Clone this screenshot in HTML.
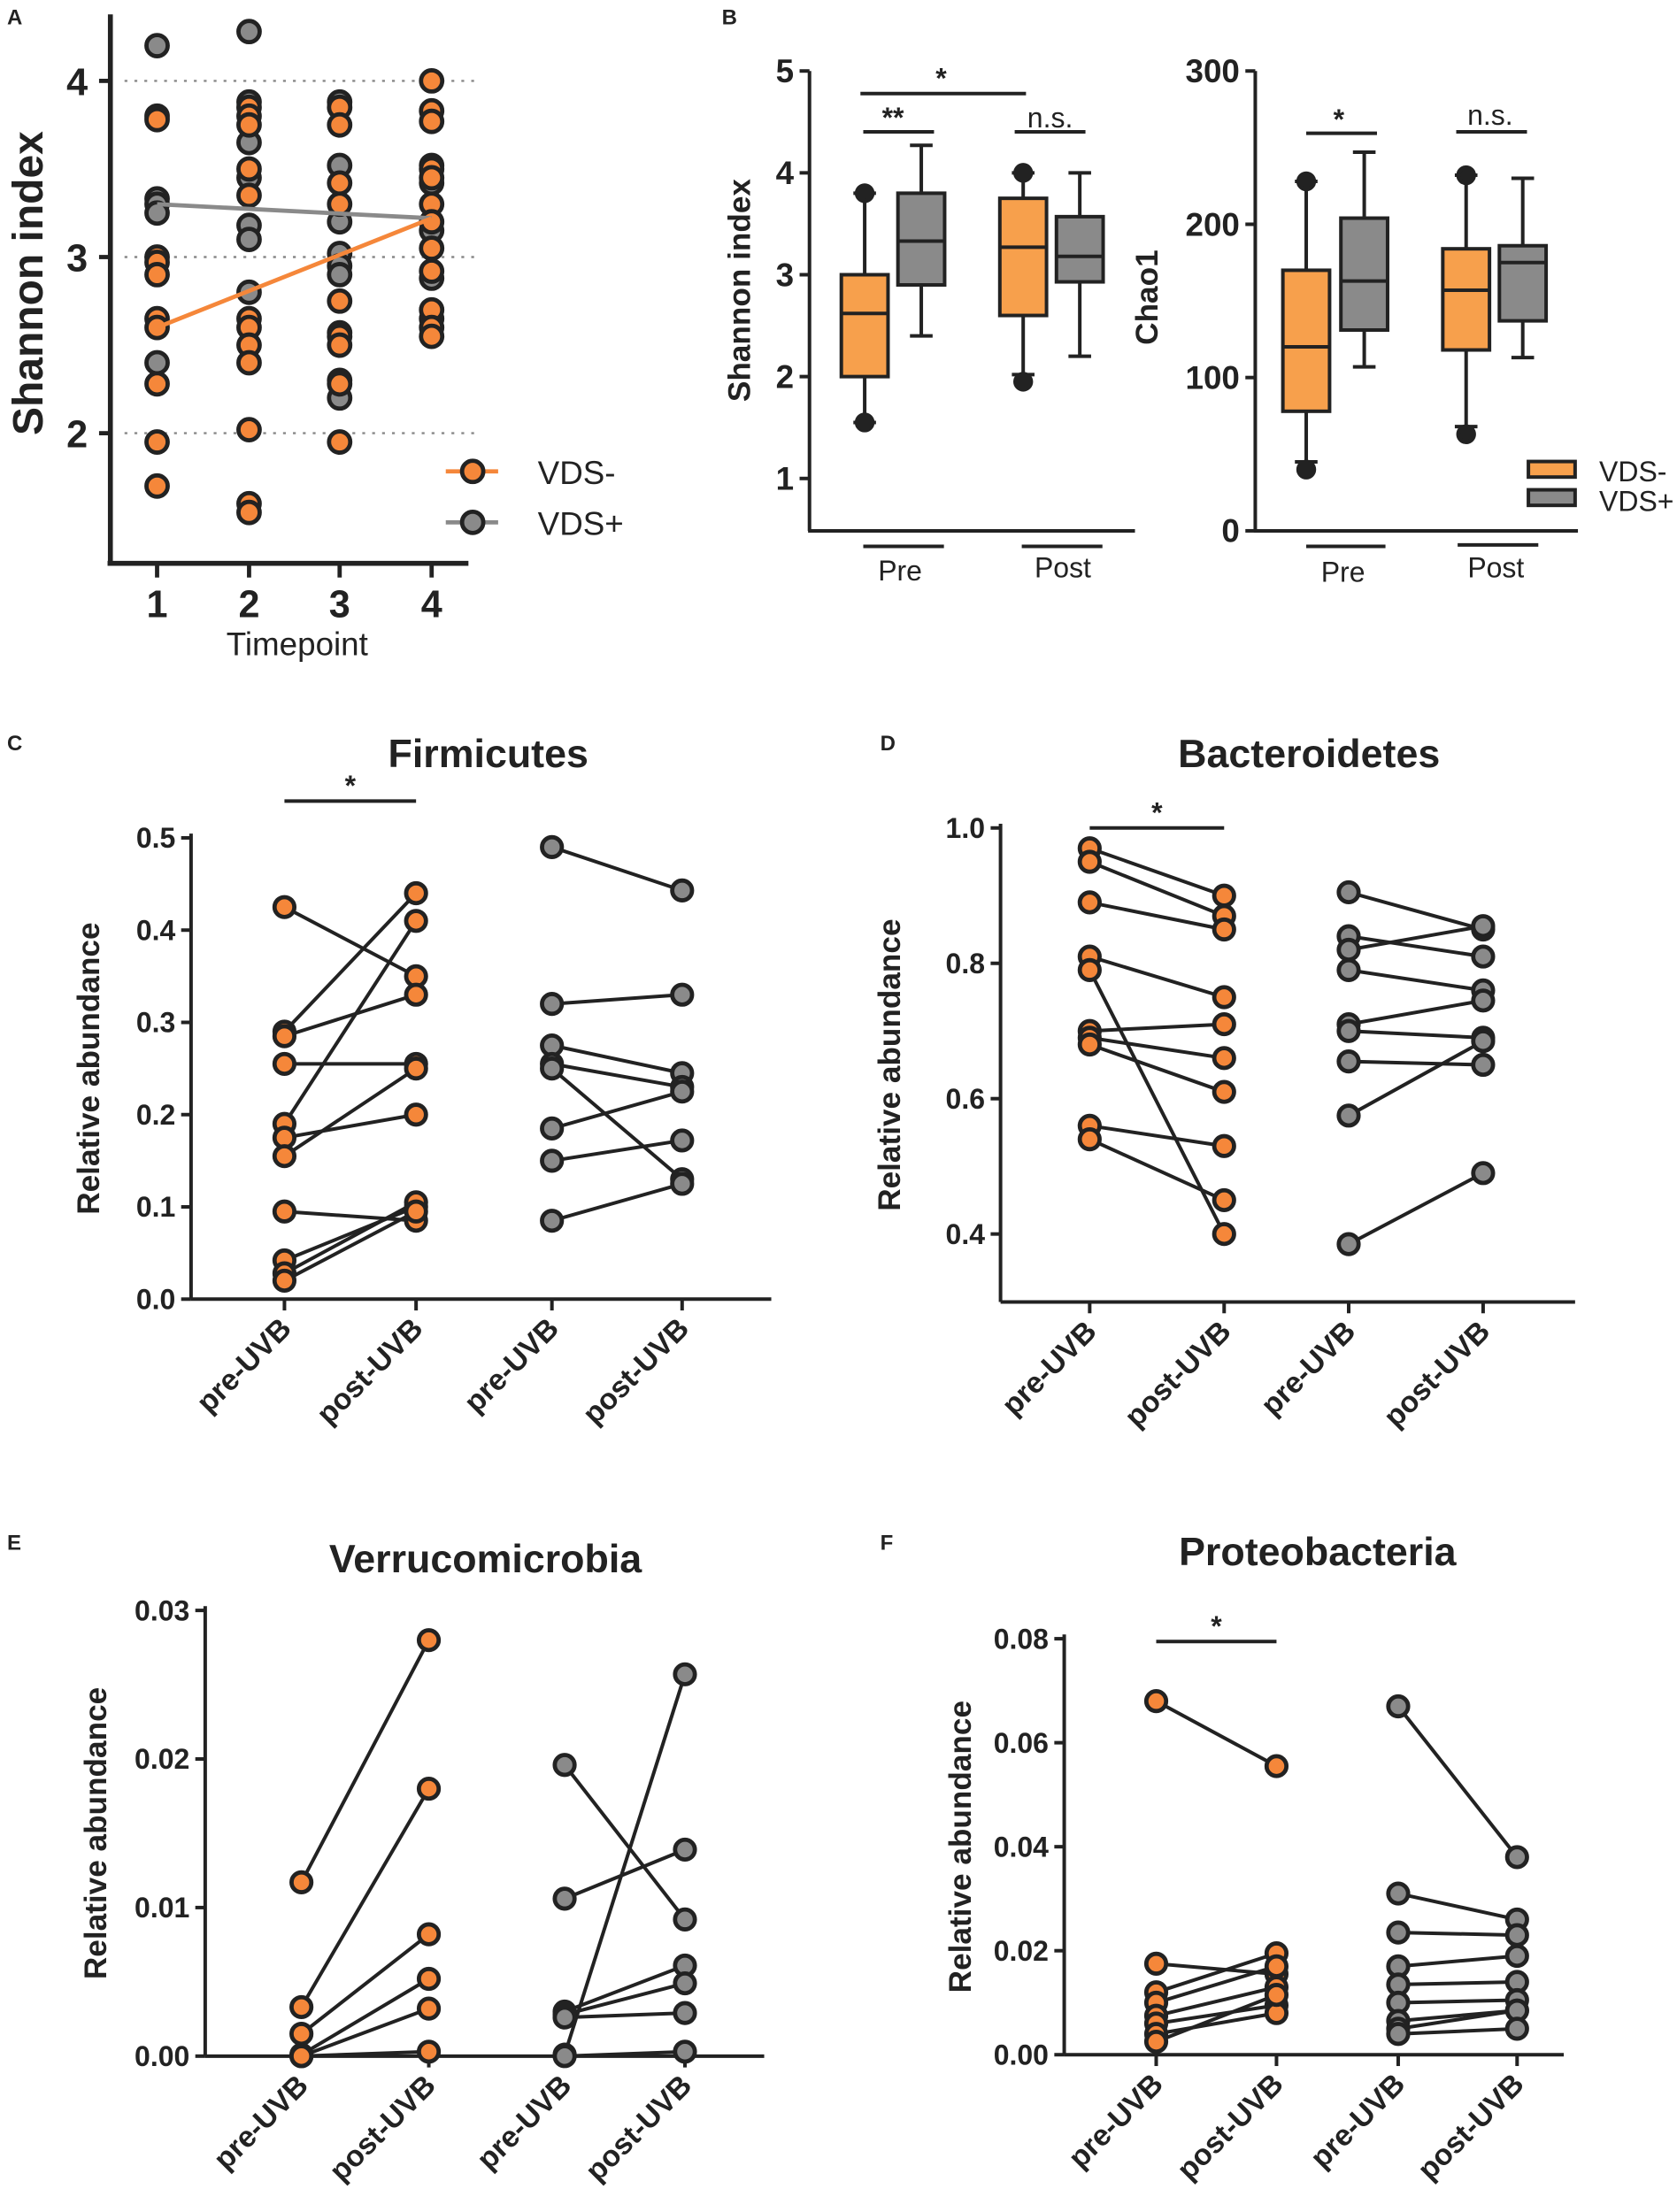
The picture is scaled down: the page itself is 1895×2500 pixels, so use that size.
<!DOCTYPE html>
<html><head><meta charset="utf-8"><style>html,body{margin:0;padding:0;background:#fff}svg{display:block}</style></head>
<body>
<svg id="s" xmlns="http://www.w3.org/2000/svg" width="1895" height="2500" viewBox="0 0 1185 1563" font-family="Liberation Sans, sans-serif"></svg>
<script>
const S=document.getElementById('s');let h='';
const OR='#f5873a',GR='#8a8a8a',K='#222',BO='#f7a04c';
function L(x1,y1,x2,y2,c=K,w=2.5,extra=''){h+=`<line x1="${x1}" y1="${y1}" x2="${x2}" y2="${y2}" stroke="${c}" stroke-width="${w}" ${extra}/>`}
function C(x,y,f,r=7.5){h+=`<circle cx="${x}" cy="${y}" r="${r}" fill="${f}" stroke="${K}" stroke-width="3"/>`}
function T(x,y,t,s,a='middle',b='bold',extra=''){h+=`<text x="${x}" y="${y}" font-size="${s}" text-anchor="${a}" font-weight="${b}" fill="#222" ${extra}>${t}</text>`}
function R(x,y,w,hh,f){h+=`<rect x="${x}" y="${y}" width="${w}" height="${hh}" fill="${f}" stroke="${K}" stroke-width="2.5"/>`}
// Panel A
T(5,17,'A',15,'start');
const ya=v=>57+(4-v)*124.5, xa=[0,111,176,240,305];
[4,3,2].forEach(v=>{L(88,ya(v),335,ya(v),'#888',1.5,'stroke-dasharray="2,5"');L(70,ya(v),78,ya(v),K,3);T(62,ya(v)+10,v,27,'end')});
L(78,10,78,398,K,3.5);L(76,398,331,398,K,3.5);
[1,2,3,4].forEach(i=>{L(xa[i],398,xa[i],408,K,3);T(xa[i],436,i,27)});
T(210,463,'Timepoint',23,'middle','normal');
T(30,200,'Shannon index',30,'middle','bold','transform="rotate(-90 30 200)"');
const A={1:[[3.8,3.78,3.0,2.97,2.9,2.65,2.6,2.28,1.95,1.7],[4.2,3.33,3.3,3.25,2.4]],
2:[[3.85,3.8,3.75,3.5,3.35,2.65,2.6,2.5,2.4,2.02,1.6,1.55],[4.28,3.88,3.65,3.45,3.18,3.1,2.8]],
3:[[3.85,3.75,3.42,3.3,2.75,2.55,2.5,2.3,2.28,1.95],[3.88,3.52,3.2,3.02,2.95,2.9,2.2,2.57]],
4:[[4.0,3.83,3.77,3.5,3.45,3.3,3.2,3.05,2.92,2.7,2.6,2.55],[3.52,3.42,3.15,2.88,2.65]]};
for(let i=1;i<=4;i++){A[i][1].forEach(v=>C(xa[i],ya(v),GR));A[i][0].forEach(v=>C(xa[i],ya(v),OR));}
L(111,ya(3.3),305,ya(3.22),GR,3);L(111,ya(2.6),305,ya(3.22),OR,3);
L(315,333,352,333,OR,3);C(334,333,OR);T(380,342,'VDS-',23,'start','normal');
L(315,369,352,369,GR,3);C(334,369,GR);T(380,378,'VDS+',23,'start','normal');
// Panel B
T(510,17,'B',15,'start');
function box(x,yf,w,b,f){const[lo,q1,md,q3,hi,d1,d2]=b;L(x,yf(hi),x,yf(q3),K,2.5);L(x,yf(q1),x,yf(lo),K,2.5);L(x-8,yf(hi),x+8,yf(hi),K,2.5);L(x-8,yf(lo),x+8,yf(lo),K,2.5);R(x-w/2,yf(q3),w,yf(q1)-yf(q3),f);L(x-w/2,yf(md),x+w/2,yf(md),K,2.5);if(d1!=null)C(x,yf(d1),K,5.5);if(d2!=null)C(x,yf(d2),K,5.5);}
const yb=v=>50+(5-v)*72;
L(572,50,572,375,K,2.5);L(571,375,802,375,K,2.5);[5,4,3,2,1].forEach(v=>{L(565,yb(v),572,yb(v),K,2.5);T(561,yb(v)+8,v,23,'end','bold')});
T(530,205,'Shannon index',22,'middle','bold','transform="rotate(-90 530 205)"');
box(611,yb,33,[1.55,2.0,2.62,3.0,3.8,3.8,1.55],BO);box(651,yb,33,[2.4,2.9,3.33,3.8,4.27],GR);
box(723,yb,33,[2.02,2.6,3.27,3.75,4.0,4.0,1.95],BO);box(763,yb,33,[2.2,2.93,3.18,3.57,4.0],GR);
L(610,386,667,386,K,2.5);T(636,410,'Pre',20,'middle','normal');L(722,386,779,386,K,2.5);T(751,408,'Post',20,'middle','normal');
L(610,93,660,93,K,2.5);T(631,90,'**',20);L(608,66,725,66,K,2.5);T(665,62,'*',20);L(717,93,767,93,K,2.5);T(742,90,'n.s.',20,'middle','normal');
const yc=v=>375-v*1.0833;
L(887,50,887,375,K,2.5);L(886,375,1115,375,K,2.5);[300,200,100,0].forEach(v=>{L(880,yc(v),887,yc(v),K,2.5);T(876,yc(v)+8,v,23,'end','bold')});
T(818,210,'Chao1',22,'middle','bold','transform="rotate(-90 818 210)"');
box(923,yc,33,[45,78,120,170,228,228,40],BO);box(964,yc,33,[107,131,163,204,247],GR);
box(1036,yc,33,[68,118,157,184,232,232,63],BO);box(1076,yc,33,[113,137,175,186,230],GR);
L(923,94,973,94,K,2.5);T(946,91,'*',20);L(1029,93,1079,93,K,2.5);T(1053,88,'n.s.',20,'middle','normal');
L(923,386,979,386,K,2.5);T(949,411,'Pre',20,'middle','normal');L(1030,385,1087,385,K,2.5);T(1057,408,'Post',20,'middle','normal');
R(1080,326,33,11,BO);T(1130,340,'VDS-',20,'start','normal');R(1080,346,33,11,GR);T(1130,361,'VDS+',20,'start','normal');
// paired panels
function pp(o){const{letter,lx,ly,title,tx,ty,ax,top,bot,y0v,y1v,ticks,fmt,xs,xend,org,gry,sig,ylab,ylx}=o;
 const yf=v=>bot-(v-y0v)/(y1v-y0v)*(bot-top);
 T(lx,ly,letter,15,'start');T(tx,ty,title,28);
 L(ax,top-3,ax,bot,K,2.5);L(ax,bot,xend,bot,K,2.5);
 ticks.forEach(v=>{L(ax-7,yf(v),ax,yf(v),K,2.5);T(ax-11,yf(v)+7,v.toFixed(fmt),20,'end')});
 T(ylx,(top+bot)/2,'Relative abundance',22,'middle','bold',`transform="rotate(-90 ${ylx} ${(top+bot)/2})"`);
 const lab=['pre-UVB','post-UVB','pre-UVB','post-UVB'];
 xs.forEach((x,i)=>{L(x,bot,x,bot+8,K,2.5);T(x+6,bot+22,lab[i],21,'end','bold',`transform="rotate(-45 ${x+6} ${bot+22})"`)});
 org[0].forEach((v,i)=>L(xs[0],yf(v),xs[1],yf(org[1][i]),K,2.5));
 gry[0].forEach((v,i)=>L(xs[2],yf(v),xs[3],yf(gry[1][i]),K,2.5));
 org[0].forEach(v=>C(xs[0],yf(v),OR,7));org[1].forEach(v=>C(xs[1],yf(v),OR,7));
 gry[0].forEach(v=>C(xs[2],yf(v),GR,7));gry[1].forEach(v=>C(xs[3],yf(v),GR,7));
 if(sig){L(xs[0],sig,xs[1],sig,K,2.5);T((xs[0]+xs[1])/2,sig-4,'*',20)}}
pp({letter:'C',lx:5,ly:530,title:'Firmicutes',tx:345,ty:542,ax:135,top:592,bot:918,y0v:0,y1v:0.5,ticks:[0,0.1,0.2,0.3,0.4,0.5],fmt:1,xs:[201,294,390,482],xend:545,
 org:[[0.425,0.29,0.285,0.255,0.19,0.175,0.155,0.095,0.042,0.028,0.02],[0.35,0.44,0.33,0.255,0.41,0.2,0.25,0.085,0.1,0.105,0.095]],
 gry:[[0.49,0.32,0.275,0.255,0.25,0.185,0.15,0.085],[0.443,0.33,0.245,0.23,0.13,0.225,0.172,0.125]],sig:566,ylx:70});
pp({letter:'D',lx:622,ly:530,title:'Bacteroidetes',tx:925,ty:542,ax:707,top:585,bot:920,y0v:0.4-48/478,y1v:1.0,ticks:[0.4,0.6,0.8,1.0],fmt:1,xs:[770,865,953,1048],xend:1113,
 org:[[0.97,0.95,0.89,0.81,0.79,0.70,0.69,0.68,0.56,0.54],[0.90,0.87,0.85,0.75,0.40,0.71,0.66,0.61,0.53,0.45]],
 gry:[[0.905,0.84,0.82,0.79,0.71,0.70,0.655,0.575,0.385],[0.85,0.81,0.855,0.76,0.745,0.69,0.65,0.685,0.49]],sig:585,ylx:636});
pp({letter:'E',lx:5,ly:1095,title:'Verrucomicrobia',tx:343,ty:1111,ax:145,top:1138,bot:1453,y0v:0,y1v:0.03,ticks:[0,0.01,0.02,0.03],fmt:2,xs:[213,303,399,484],xend:540,
 org:[[0.0117,0.0033,0.0015,0.0001,0,0],[0.028,0.018,0.0082,0.0052,0.0032,0.0003]],
 gry:[[0.0196,0.0106,0.003,0.0028,0.0026,0.0001,0],[0.0092,0.0139,0.0061,0.0049,0.0029,0.0257,0.0003]],sig:null,ylx:75});
pp({letter:'F',lx:622,ly:1095,title:'Proteobacteria',tx:931,ty:1106,ax:752,top:1158,bot:1452,y0v:0,y1v:0.08,ticks:[0,0.02,0.04,0.06,0.08],fmt:2,xs:[817,902,988,1072],xend:1105,
 org:[[0.068,0.0175,0.012,0.01,0.0075,0.006,0.004,0.0025],[0.0555,0.0155,0.0195,0.017,0.013,0.0095,0.008,0.0115]],
 gry:[[0.067,0.031,0.0235,0.017,0.0135,0.01,0.0065,0.005,0.004],[0.038,0.026,0.023,0.019,0.014,0.0105,0.0085,0.0085,0.005]],sig:1160,ylx:686});
S.innerHTML=h;
</script>
</body></html>
